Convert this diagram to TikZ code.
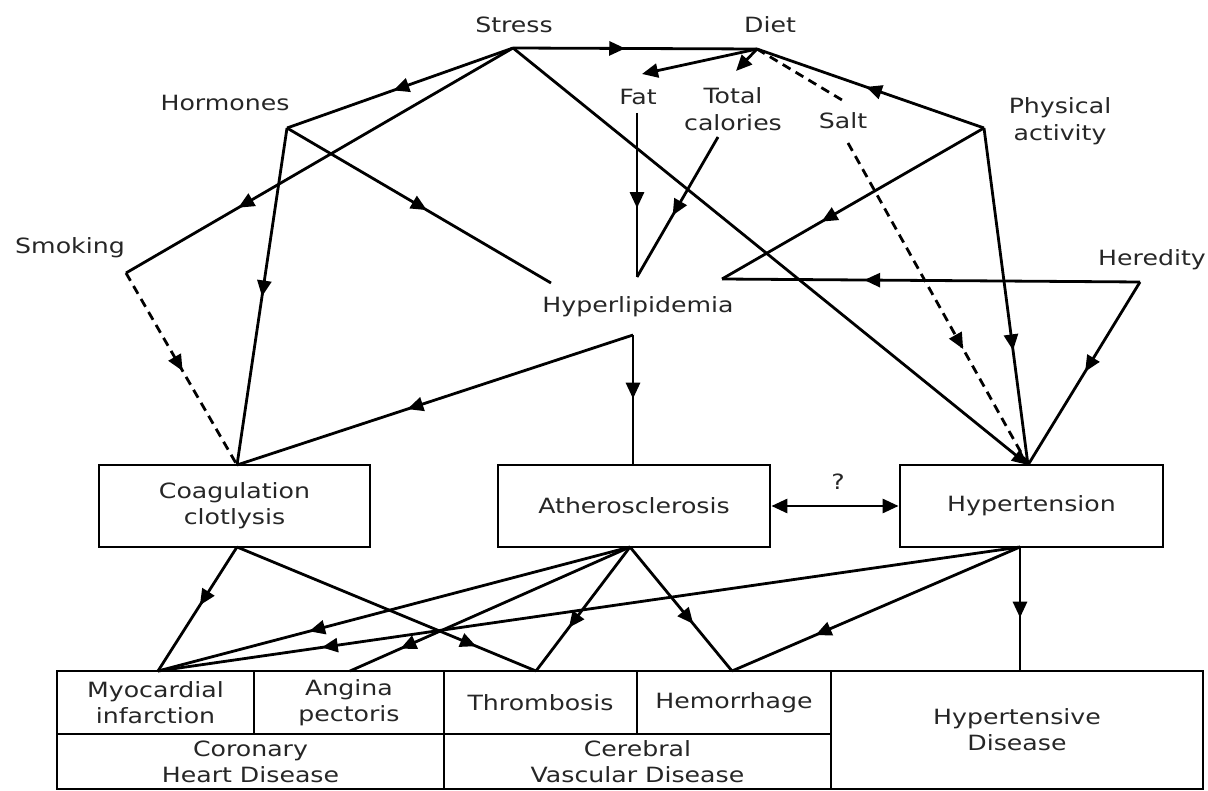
\documentclass[tikz,border=0pt]{standalone}
\usepackage{fontspec}
\setmainfont{DejaVu Sans}[FakeStretch=1.2]
\usetikzlibrary{arrows.meta,decorations.markings}
\begin{document}
\begin{tikzpicture}[x=1pt,y=-1pt,
  lbl/.style={font=\fontsize{21}{27}\selectfont, inner sep=0pt, align=center, text=black!85},
  box/.style={draw, line width=2.8pt, inner sep=0pt, font=\fontsize{21}{26}\selectfont, align=center, text=black!85},
  conn/.style={line width=2.8pt},
  dsh/.style={line width=2.8pt, dash pattern=on 9pt off 6pt},
  ma/.style={postaction={decorate}, decoration={markings, mark=at position #1 with {\arrow{Triangle[length=16pt,width=14pt]}}}},
  tip/.style={-{Triangle[length=16pt,width=14pt]}}]
\useasboundingbox (0,0) rectangle (1208,791);

% labels
\node[lbl] (stress) at (514,25) {Stress};
\node[lbl] (diet) at (770,25) {Diet};
\node[lbl] (hormones) at (225,103) {Hormones};
\node[lbl] (fat) at (638,97) {Fat};
\node[lbl] (tc) at (733,109) {Total\\calories};
\node[lbl] (salt) at (843,121) {Salt};
\node[lbl] (phys) at (1060,121) {Physical\\activity};
\node[lbl] (smoking) at (70,248) {Smoking};
\node[lbl] (heredity) at (1152,260) {Heredity};
\node[lbl] (hyperlip) at (638,307) {Hyperlipidemia};

% boxes
\node[box, minimum width=271pt, minimum height=82pt] (coag) at (234.5,506) {Coagulation\\clotlysis};
\node[box, minimum width=272pt, minimum height=82pt] (ath) at (634,506) {Atherosclerosis};
\node[box, minimum width=263pt, minimum height=82pt] (hyp) at (1031.5,506) {Hypertension};
\node[lbl] (q) at (838,482) {?};

% bottom table
\node[box, minimum width=197pt, minimum height=63pt] (mi) at (155.5,702.5) {Myocardial\\infarction};
\node[box, minimum width=190pt, minimum height=63pt] (an) at (349,702.5) {Angina\\pectoris};
\node[box, minimum width=387pt, minimum height=55pt] (chd) at (250.5,761.5) {Coronary\\Heart Disease};
\node[box, minimum width=193pt, minimum height=63pt] (th) at (540.5,702.5) {Thrombosis};
\node[box, minimum width=194pt, minimum height=63pt] (he) at (734,702.5) {Hemorrhage};
\node[box, minimum width=387pt, minimum height=55pt] (cvd) at (637.5,761.5) {Cerebral\\Vascular Disease};
\node[box, minimum width=372pt, minimum height=118pt] (hd) at (1017,730) {Hypertensive\\Disease};

% junction coordinates
\coordinate (S) at (513,48);
\coordinate (D) at (757,49);
\coordinate (Ho) at (287,128);
\coordinate (Sm) at (126,273);
\coordinate (P) at (984,128);
\coordinate (He) at (1140,282);
\coordinate (HLr) at (722,279);
\coordinate (HLt) at (637,277);
\coordinate (HLl) at (551,283);
\coordinate (HLb) at (633,335);
\coordinate (Ct) at (237,465);
\coordinate (Cb) at (237,547);
\coordinate (At) at (633,465);
\coordinate (Ab) at (630,547);
\coordinate (Ht) at (1028,465);
\coordinate (Hb) at (1020,547);
\coordinate (FatE) at (642,74);
\coordinate (TCE) at (736,71);
\coordinate (SaltE) at (847,103);
\coordinate (FatS) at (637,113);
\coordinate (TCS) at (718,137);
\coordinate (SaltS) at (848,143);
\coordinate (MIt) at (158,671);
\coordinate (ANt) at (350,671);
\coordinate (THt) at (536,671);
\coordinate (HEt) at (732,671);
\coordinate (HDt) at (1020,671);

% upper connectors
\draw[conn,ma=0.46] (S) -- (D);
\draw[conn,ma=0.53] (S) -- (Ho);
\draw[conn,ma=0.71] (S) -- (Sm);
\draw[conn,tip] (S) -- (Ht);
\draw[conn,tip] (D) -- (FatE);
\draw[conn,tip] (D) -- (TCE);
\draw[dsh] (D) -- (SaltE);
\draw[conn,ma=0.52] (P) -- (D);
\draw[conn,ma=0.53] (Ho) -- (HLl);
\draw[conn,ma=0.5] (Ho) -- (Ct);
\draw[dsh,ma=0.51] (Sm) -- (Ct);
\draw[conn,ma=0.58] (FatS) -- (HLt);
\draw[conn,ma=0.56] (TCS) -- (HLt);
\draw[conn,ma=0.62] (P) -- (HLr);
\draw[conn,ma=0.66] (He) -- (HLr);
\draw[conn,ma=0.57] (HLb) -- (Ct);
\draw[conn,ma=0.49] (HLb) -- (At);
\draw[dsh,ma=0.64] (SaltS) -- (Ht);
\draw[conn,ma=0.66] (P) -- (Ht);
\draw[conn,ma=0.49] (He) -- (Ht);
\draw[conn,{Triangle[length=16pt,width=14pt]}-{Triangle[length=16pt,width=14pt]}] (ath.east) -- (hyp.west);

% lower connectors
\draw[conn,ma=0.47] (Cb) -- (MIt);
\draw[conn,ma=0.8] (Cb) -- (THt);
\draw[conn,ma=0.68] (Ab) -- (MIt);
\draw[conn,ma=0.82] (Ab) -- (ANt);
\draw[conn,ma=0.65] (Ab) -- (THt);
\draw[conn,ma=0.62] (Ab) -- (HEt);
\draw[conn,ma=0.81] (Hb) -- (MIt);
\draw[conn,ma=0.71] (Hb) -- (HEt);
\draw[conn,ma=0.57] (Hb) -- (HDt);
\end{tikzpicture}
\end{document}
